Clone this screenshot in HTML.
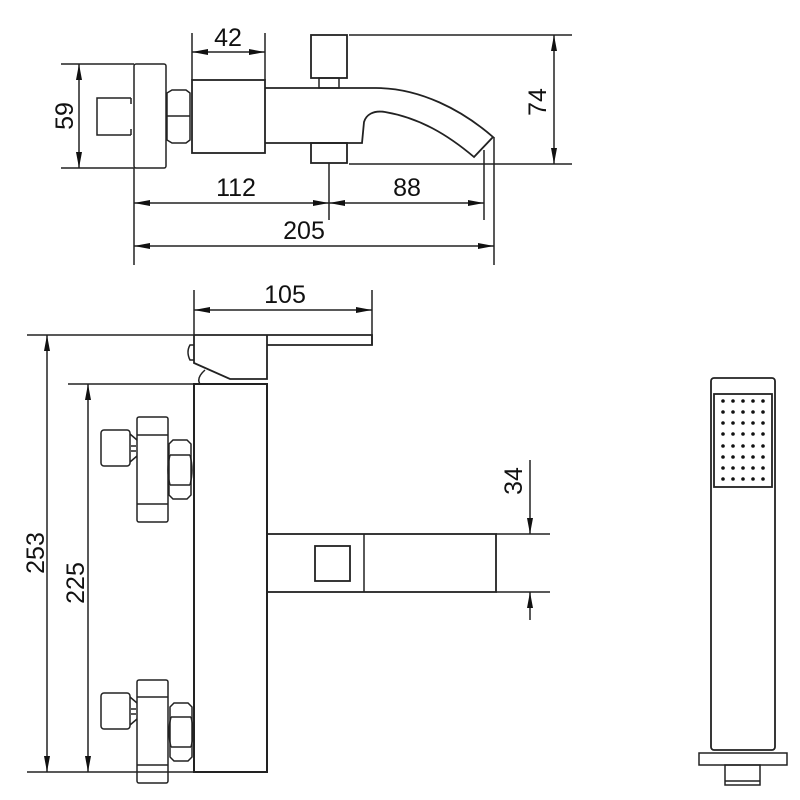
<!DOCTYPE html>
<html><head><meta charset="utf-8"><style>
html,body{margin:0;padding:0;background:#fff;}
svg{display:block}
text{font-family:"Liberation Sans",sans-serif;font-size:25px;fill:#111}
</style></head><body>
<svg width="800" height="800" viewBox="0 0 800 800" xmlns="http://www.w3.org/2000/svg">
<defs>
<marker id="a" viewBox="0 0 16 6" refX="16" refY="3" markerWidth="16" markerHeight="6" orient="auto-start-reverse" markerUnits="userSpaceOnUse"><path d="M0,0 L16,3 L0,6 Z" fill="#111"/></marker>
</defs>
<g fill="none" stroke="#222" stroke-width="1.5">
<!-- TOP VIEW -->
<rect x="134" y="64" width="32" height="104" rx="2"/>
<path d="M131,98 H97 V135 H131"/>
<path d="M131,98 V104 M131,129 V135"/>
<path d="M167,93 L172,90 H186 L190,93 V140 L186,143 H172 L167,140 Z"/>
<path d="M167,116 H190"/>
<rect x="192" y="80" width="73" height="73" stroke-width="1.8"/>
<path d="M265,88 H376 C420,88 462,110 493,137 L474,157 C448,135 420,118 385,112 C373,110 366,115 364,122 L362,143 H265" stroke-width="1.8"/>
<rect x="311" y="35" width="36" height="43" stroke-width="1.8"/>
<rect x="319" y="78" width="20" height="10"/>
<rect x="311" y="143" width="36" height="20" stroke-width="1.8"/>
<!-- top dims -->
<path d="M61,64 H134 M61,168 H134"/>
<line x1="79" y1="64" x2="79" y2="168" marker-start="url(#a)" marker-end="url(#a)"/>
<path d="M192,33 V80 M265,33 V80"/>
<line x1="192" y1="52" x2="265" y2="52" marker-start="url(#a)" marker-end="url(#a)"/>
<path d="M349,35 H572 M349,164 H572"/>
<line x1="554" y1="35" x2="554" y2="164" marker-start="url(#a)" marker-end="url(#a)"/>
<path d="M134,168 V265 M329,163 V220 M484,150 V220 M494,137 V265"/>
<line x1="134" y1="203" x2="329" y2="203" marker-start="url(#a)" marker-end="url(#a)"/>
<line x1="329" y1="203" x2="484" y2="203" marker-start="url(#a)" marker-end="url(#a)"/>
<line x1="134" y1="246" x2="494" y2="246" marker-start="url(#a)" marker-end="url(#a)"/>
<!-- FRONT VIEW -->
<path d="M194,335 H372 V345 H267" stroke-width="1.8"/>
<path d="M194,335 V363 L230,379 H267 V335" stroke-width="1.8"/>
<path d="M194,345 H190 Q186,352 190,360 H194"/>
<path d="M200,384 Q196,378 205,370"/>
<rect x="194" y="384" width="73" height="388" stroke-width="2"/>
<path d="M27,335 H194 M68,384 H194 M27,772 H207"/>
<line x1="47" y1="772" x2="47" y2="335" marker-end="url(#a)" marker-start="url(#a)"/>
<line x1="88" y1="772" x2="88" y2="384" marker-end="url(#a)" marker-start="url(#a)"/>
<path d="M194,290 V335 M372,290 V345"/>
<line x1="194" y1="310" x2="372" y2="310" marker-start="url(#a)" marker-end="url(#a)"/>
<!-- upper handle -->
<rect x="137" y="417" width="31" height="105" rx="2"/>
<path d="M137,435 H168 M137,504 H168"/>
<rect x="101" y="430" width="29" height="36" rx="3"/>
<path d="M130,434 L137,440 M130,462 L137,456 M131,446 H136 M131,451 H136"/>
<path d="M169,444 L173,440 H187 L191,444 V495 L187,499 H173 L169,495 Z"/>
<path d="M170,455 Q166,470 170,485 M190,455 Q194,470 190,485 M170,455 H190 M170,485 H190"/>
<!-- lower handle -->
<rect x="137" y="680" width="31" height="103" rx="2"/>
<path d="M137,697 H168 M137,765 H168"/>
<rect x="101" y="693" width="29" height="36" rx="3"/>
<path d="M130,697 L137,703 M130,725 L137,719 M131,709 H136 M131,714 H136"/>
<path d="M170,707 L174,703 H188 L192,707 V757 L188,761 H174 L170,757 Z"/>
<path d="M171,717 Q167,732 171,747 M191,717 Q195,732 191,747 M171,717 H191 M171,747 H191"/>
<!-- spout front -->
<rect x="267" y="534" width="229" height="58" stroke-width="1.8"/>
<path d="M364,534 V592"/>
<rect x="315" y="546" width="35" height="35" stroke-width="1.8"/>
<path d="M496,534 H550 M496,592 H550"/>
<line x1="530" y1="460" x2="530" y2="534" marker-end="url(#a)"/>
<line x1="530" y1="620" x2="530" y2="592" marker-end="url(#a)"/>
<!-- hand shower -->
<rect x="711" y="378" width="64" height="372" rx="3" stroke-width="1.8"/>
<rect x="714" y="394" width="58" height="93" stroke-width="1.8"/>
<rect x="699" y="753" width="88" height="12"/>
<rect x="725" y="765" width="35" height="20"/>
<path d="M725,781 H760"/>
</g>
<g fill="#111">
<g id="row">
<circle cx="723" cy="401" r="1.8"/><circle cx="733" cy="401" r="1.8"/><circle cx="743" cy="401" r="1.8"/><circle cx="753" cy="401" r="1.8"/><circle cx="763" cy="401" r="1.8"/>
</g>
<use href="#row" y="11"/><use href="#row" y="22"/><use href="#row" y="33"/><use href="#row" y="45"/><use href="#row" y="56"/><use href="#row" y="67"/><use href="#row" y="78"/>
</g>
<text x="228" y="46" text-anchor="middle">42</text>
<text x="236" y="196" text-anchor="middle">112</text>
<text x="407" y="196" text-anchor="middle">88</text>
<text x="304" y="239" text-anchor="middle">205</text>
<text x="285" y="303" text-anchor="middle">105</text>
<text transform="translate(73,116) rotate(-90)" text-anchor="middle">59</text>
<text transform="translate(546,102) rotate(-90)" text-anchor="middle">74</text>
<text transform="translate(44,553) rotate(-90)" text-anchor="middle">253</text>
<text transform="translate(84,583) rotate(-90)" text-anchor="middle">225</text>
<text transform="translate(522,481) rotate(-90)" text-anchor="middle">34</text>
</svg>
</body></html>
